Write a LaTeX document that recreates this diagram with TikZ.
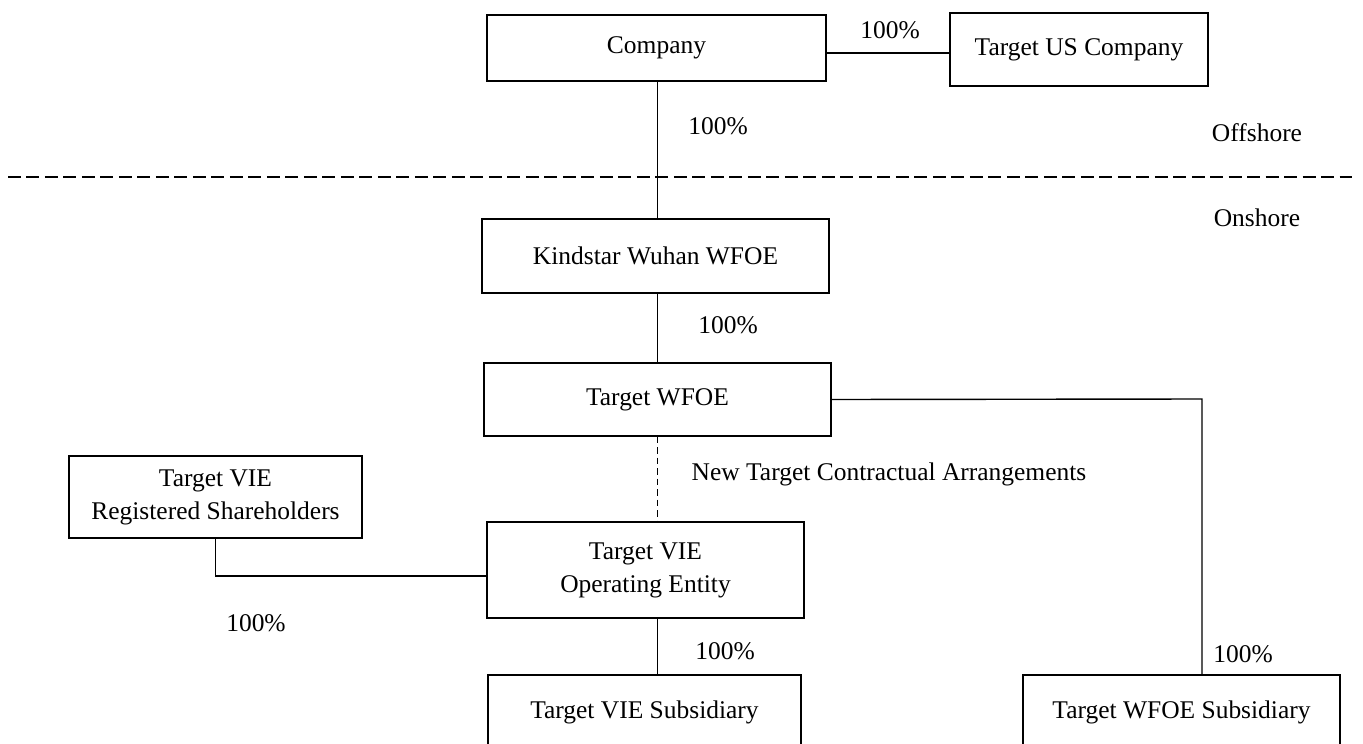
\documentclass[tikz,border=0pt]{standalone}
\usepackage{fontspec}
\setmainfont{Liberation Serif}
\usetikzlibrary{positioning,calc}

\begin{document}
\begin{tikzpicture}[
    x=0.02cm, y=-0.02cm,
    every node/.style={font=\fontsize{14.5}{18.8}\selectfont},
    box/.style={rectangle,draw,line width=0.8pt,align=center,inner sep=0pt},
    pct/.style={inner sep=0pt},
    link/.style={line width=0.8pt},
    contract/.style={line width=0.8pt,dash pattern=on 0.13cm off 0.08cm},
    border/.style={line width=0.8pt,dash pattern=on 0.26cm off 0.11cm}
]
\useasboundingbox (0,0) rectangle (1363,744);

% Offshore side
\node[box,minimum width=6.78cm,minimum height=1.32cm] (company) at (656.5,48) {Company};
\node[box,minimum width=5.16cm,minimum height=1.46cm] (usco) at (1079,49.5) {Target US Company};
\node[pct] (pctus) at (890,30) {100\%};
\node[pct] (pctkw) at (718,126) {100\%};
\node (offshore) at (1257,133) {Offshore};

% Offshore / onshore border
\coordinate (bleft) at (8,177);
\coordinate (bright) at (1352,177);
\draw[border] (bleft) -- (bright);
\node (onshore) at (1257,218) {Onshore};

% Onshore side
\node[box,minimum width=6.94cm,minimum height=1.48cm] (kindstar) at (655.5,256) {Kindstar Wuhan WFOE};
\node[pct] (pcttw) at (728,325) {100\%};
\node[box,minimum width=6.94cm,minimum height=1.46cm] (twfoe) at (657.5,399.5) {Target WFOE};
\node (contractlbl) at (889,474) {New Target Contractual Arrangements};
\node[box,minimum width=5.86cm,minimum height=1.64cm] (share) at (215.5,497) {Target VIE\\Registered Shareholders};
\node[box,minimum width=6.34cm,minimum height=1.92cm] (vie) at (645.5,570) {Target VIE\\Operating Entity};
\node[pct] (pctsh) at (256,623) {100\%};
\node[pct] (pctvs) at (725,651) {100\%};
\node[pct] (pctws) at (1243,654) {100\%};
\node[box,minimum width=6.26cm,minimum height=1.48cm] (viesub) at (644.5,712) {Target VIE Subsidiary};
\node[box,minimum width=6.34cm,minimum height=1.48cm] (wfoesub) at (1181.5,712) {Target WFOE Subsidiary};

% Connectors
\coordinate (wcorner) at (1202,399);
\draw[link] ([yshift=-0.1cm]company.east) -- ([yshift=-0.1cm]usco.west |- company.east);
\draw[link] (twfoe.north |- company.south) -- (twfoe.north |- kindstar.north);
\draw[link] (twfoe.north |- kindstar.south) -- (twfoe.north);
\draw[link] (twfoe.east) -- (wcorner) -- (wcorner |- wfoesub.north);
\draw[contract] (twfoe.south) -- (twfoe.south |- vie.north);
\draw[link] (share.south) |- ([yshift=-0.12cm]vie.west);
\draw[link] (twfoe.south |- vie.south) -- (twfoe.south |- viesub.north);

\end{tikzpicture}
\end{document}
